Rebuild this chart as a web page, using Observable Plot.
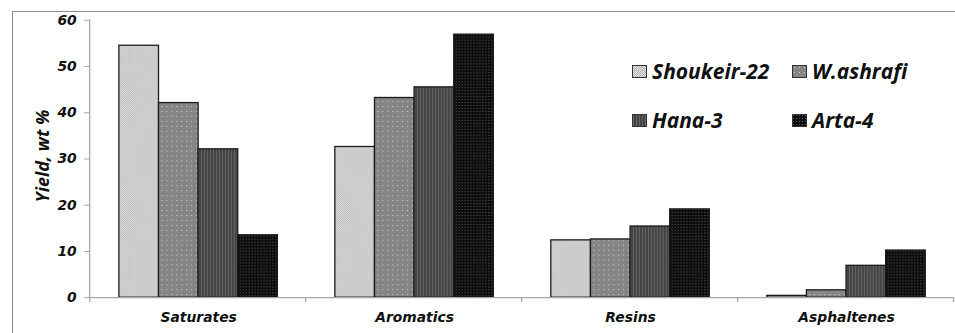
<!DOCTYPE html>
<html>
<head>
<meta charset="utf-8">
<script src="https://cdn.jsdelivr.net/npm/d3@7"></script>
<script src="https://cdn.jsdelivr.net/npm/@observablehq/plot@0.6"></script>
<style>
  html, body { margin: 0; padding: 0; background: #fff; overflow: hidden; width: 955px; height: 333px; }
  #wrap { position: relative; width: 955px; height: 333px; overflow: hidden; }
  #border { position: absolute; left: 12px; top: 11px; width: 1000px; height: 400px; border: 1.5px solid #8c8c8c; box-sizing: border-box; }
  #chart { position: absolute; left: 0; top: 0; }
  #chart svg text { font-family: "DejaVu Sans", Verdana, sans-serif; font-weight: bold; font-style: italic; font-size: 14px; fill: #111; }
  #ytitle { position: absolute; left: 42px; top: 156px; transform: translate(-50%, -50%) rotate(-90deg); font-family: "Open Sans", Lato, sans-serif; font-weight: bold; font-style: italic; font-size: 18px; color: #111; white-space: nowrap; }
  .leg { position: absolute; display: flex; align-items: center; font-family: "Open Sans", Lato, sans-serif; font-weight: bold; font-style: italic; font-size: 21px; color: #111; white-space: nowrap; }
  .leg svg { margin-right: 5px; }
</style>
</head>
<body>
<svg width="0" height="0" style="position:absolute">
  <defs>
    <pattern id="p0" width="2" height="2" patternUnits="userSpaceOnUse">
      <rect width="2" height="2" fill="#e2e2e2"/>
      <rect x="0" y="0" width="1" height="1" fill="#b0b0b0"/>
      <rect x="1" y="1" width="1" height="1" fill="#bcbcbc"/>
    </pattern>
    <pattern id="p1" width="5" height="5" patternUnits="userSpaceOnUse">
      <rect width="5" height="5" fill="#858585"/>
      <rect x="2" y="2" width="1" height="1" fill="#d6d6d6"/>
    </pattern>
    <pattern id="p2" width="3" height="3" patternUnits="userSpaceOnUse">
      <rect width="3" height="3" fill="#444444"/>
      <rect x="1" y="0" width="1" height="3" fill="#666666"/>
    </pattern>
    <pattern id="p3" width="3" height="3" patternUnits="userSpaceOnUse">
      <rect width="3" height="3" fill="#0d0d0d"/>
      <rect x="1" y="1" width="1" height="1" fill="#5a5a5a"/>
    </pattern>
  </defs>
</svg>
<div id="wrap">
  <div id="border"></div>
  <div id="chart"></div>
  <div id="ytitle">Yield, wt %</div>
  <div id="legend"></div>
</div>
<script>
// ---- data ----
const categories = ["Saturates", "Aromatics", "Resins", "Asphaltenes"];
const series = ["Shoukeir-22", "W.ashrafi", "Hana-3", "Arta-4"];
const shoukeir22 = [54.5, 32.6, 12.4, 0.4];
const washrafi   = [42.1, 43.2, 12.6, 1.6];
const hana3      = [32.1, 45.5, 15.4, 6.9];
const arta4      = [13.5, 56.9, 19.1, 10.2];
const yTicks = [0, 10, 20, 30, 40, 50, 60];

// ---- styles ----
const patterns = ["url(#p0)", "url(#p1)", "url(#p2)", "url(#p3)"];
const valuesBySeries = [shoukeir22, washrafi, hana3, arta4];

const rows = categories.flatMap((c, i) =>
  series.map((s, j) => ({category: c, series: s, value: valuesBySeries[j][i]}))
);

const chart = Plot.plot({
  width: 964,
  height: 333,
  marginLeft: 90,
  marginRight: 0,
  marginTop: 20,
  marginBottom: 33,
  style: {background: "transparent", overflow: "visible"},
  fx: {domain: categories, padding: 0, label: null},
  x: {domain: series, paddingInner: 0, paddingOuter: 0.7, axis: null},
  y: {domain: [0, 60], axis: null},
  color: {domain: series, range: patterns},
  marks: [
    Plot.barY(rows, {fx: "category", x: "series", y: "value", fill: "series", stroke: "#1a1a1a", strokeWidth: 1.3}),
    Plot.ruleY([0], {stroke: "#a8a8a8", strokeWidth: 1.3}),
    Plot.axisY({ticks: yTicks, tickSize: 6, tickPadding: 8, stroke: "#a8a8a8", label: null, tickFormat: d => String(d)}),
    Plot.axisFx({anchor: "bottom", tickSize: 0, tickPadding: 15, label: null})
  ]
});
document.getElementById("chart").appendChild(chart);

// structural axis lines drawn with the plot's own scales
const svg = d3.select(chart.tagName.toLowerCase() === "svg" ? chart : chart.querySelector("svg"));
const fx = chart.scale("fx");
const y = chart.scale("y");
const yPos = v => y.range[0] + (v - y.domain[0]) / (y.domain[1] - y.domain[0]) * (y.range[1] - y.range[0]);
const y0 = yPos(0);
const start = fx.range[0];
const g = svg.append("g").attr("stroke", "#a8a8a8").attr("stroke-width", 1.3);
for (let i = 0; i <= categories.length; i++) {
  const xb = Math.round(start + i * fx.step) + 0.5;
  g.append("line").attr("x1", xb).attr("x2", xb).attr("y1", y0).attr("y2", y0 + 5);
}
// y axis line
g.append("line").attr("x1", start + 0.5).attr("x2", start + 0.5).attr("y1", yPos(60)).attr("y2", y0);

// legend (HTML)
const legend = document.getElementById("legend");
const legPos = [[632, 72], [792, 72], [632, 121], [792, 121]];
series.forEach((s, i) => {
  const d = document.createElement("div");
  d.className = "leg";
  d.style.left = legPos[i][0] + "px";
  d.style.top = (legPos[i][1] - 15) + "px";
  d.innerHTML = `<svg width="15" height="13"><rect x="0.5" y="0.5" width="14" height="12" fill="${patterns[i]}" stroke="#333" stroke-width="1"/></svg><span>${s}</span>`;
  legend.appendChild(d);
});
</script>
</body>
</html>
